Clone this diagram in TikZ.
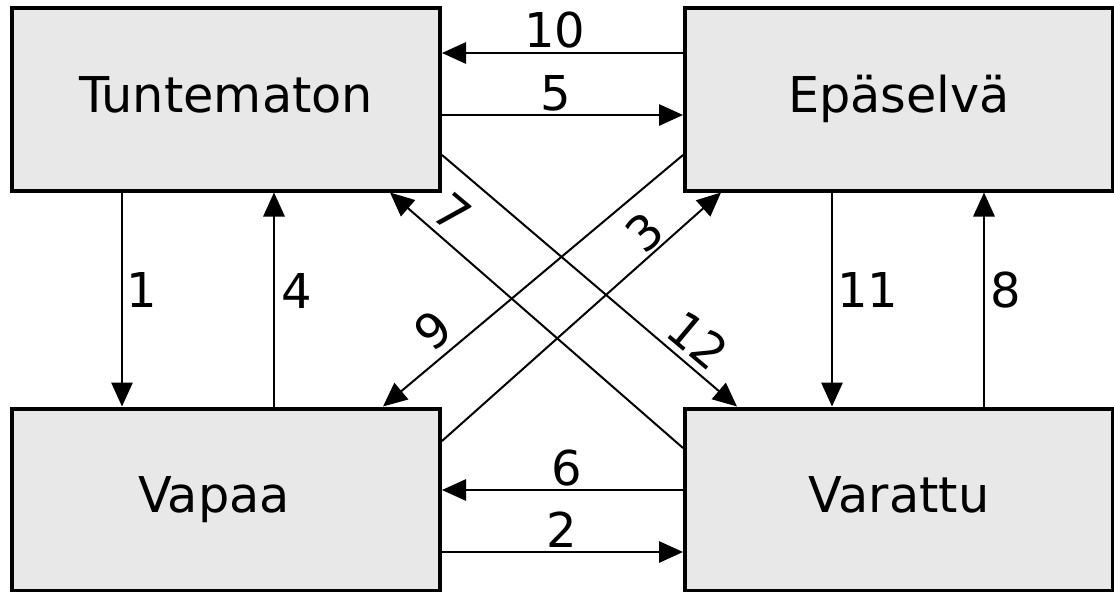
\documentclass[tikz,border=0pt]{standalone}
\usepackage{fontspec}
\setmainfont{DejaVu Sans}
\usetikzlibrary{arrows.meta}

\tikzset{
  statebox/.style={draw=black, line width=3pt, fill=boxgray,
    minimum width=321pt, minimum height=136.5pt, inner sep=0pt,
    text height=27pt, text depth=6.8pt,
    font=\fontsize{37pt}{44pt}\selectfont},
  trans/.style={line width=1.5pt, -{Triangle[length=18pt,width=16pt]}},
  lbl/.style={inner sep=0pt, font=\fontsize{36pt}{43pt}\selectfont}
}
\definecolor{boxgray}{HTML}{E8E8E8}

\begin{document}
\begin{tikzpicture}[x=0.75pt, y=-0.75pt]
  \useasboundingbox (0,0) rectangle (1114,592);

  % states
  \node[statebox] (T)  at (226,99.5)  {Tuntematon};
  \node[statebox] (E)  at (899,99.5)  {Epäselvä};
  \node[statebox] (V)  at (226,499.5) {Vapaa\hspace*{18pt}};
  \node[statebox] (Va) at (899,499.5) {Varattu};

  % horizontal transitions
  \draw[trans] (E.west |- 0,53)  -- (T.east |- 0,53);
  \draw[trans] (T.east |- 0,115) -- (E.west |- 0,115);
  \draw[trans] (Va.west |- 0,490) -- (V.east |- 0,490);
  \draw[trans] (V.east |- 0,552)  -- (Va.west |- 0,552);

  % vertical transitions
  \draw[trans] (T.south -| 122,0) -- (V.north -| 122,0);
  \draw[trans] (V.north -| 274,0) -- (T.south -| 274,0);
  \draw[trans] (E.south -| 832,0) -- (Va.north -| 832,0);
  \draw[trans] (Va.north -| 984,0) -- (E.south -| 984,0);

  % diagonal transitions
  \draw[trans] (T.east |- 0,155)  -- (Va.north -| 737,0);
  \draw[trans] (Va.west |- 0,448) -- (T.south -| 390,0);
  \draw[trans] (V.east |- 0,441)  -- (E.south -| 721,0);
  \draw[trans] (E.west |- 0,155)  -- (V.north -| 383,0);

  % transition numbers
  \node[lbl] (n10) at (555,30)   {10};
  \node[lbl] (n5)  at (556,93)   {5};
  \node[lbl] (n6)  at (567,468)  {6};
  \node[lbl] (n2)  at (562,530)  {2};
  \node[lbl] (n1)  at (142,290)  {1};
  \node[lbl] (n4)  at (297,291)  {4};
  \node[lbl] (n11) at (868,290)  {11};
  \node[lbl] (n8)  at (1006,290) {8};
  \node[lbl, rotate=-40] (n7)  at (452,213) {7};
  \node[lbl, rotate=41]  (n3)  at (645,232) {3};
  \node[lbl, rotate=40]  (n9)  at (433,330) {9};
  \node[lbl, rotate=-40] (n12) at (698,340) {12};
\end{tikzpicture}
\end{document}
